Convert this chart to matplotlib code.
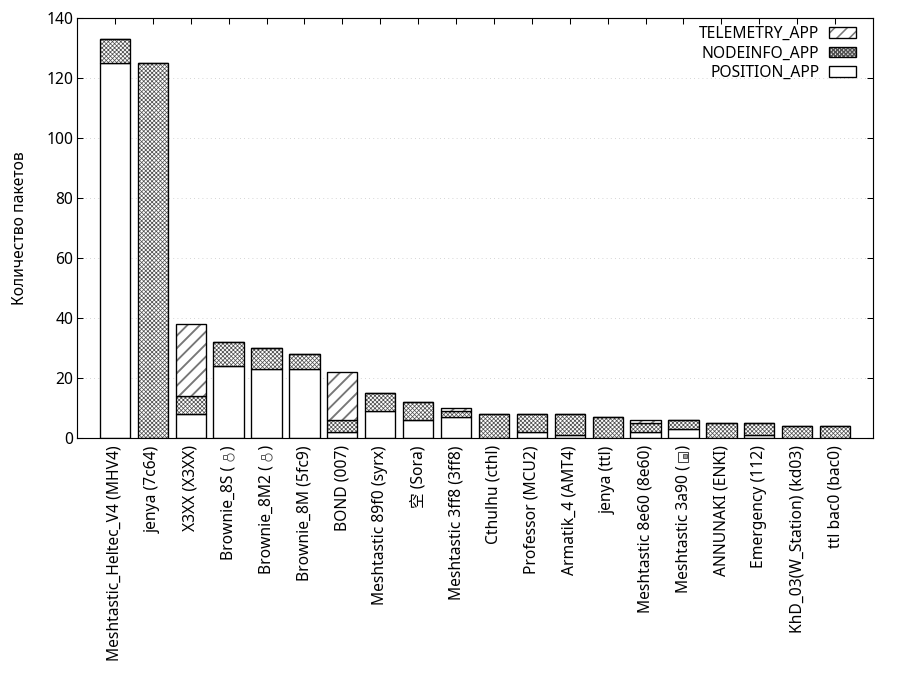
import matplotlib
matplotlib.use('Agg')
import matplotlib.pyplot as plt
from matplotlib.legend_handler import HandlerTuple
from matplotlib.lines import Line2D
from matplotlib.transforms import IdentityTransform
import numpy as np

# \u3000 marks an emoji that no installed font has; it is drawn as a small shape
nodes = ['Meshtastic_Heltec_V4 (MHV4)', 'jenya (7c64)', 'X3XX (X3XX)',
         'Brownie_8S (\u3000)', 'Brownie_8M2 (\u3000)', 'Brownie_8M (5fc9)', 'BOND (007)',
         'Meshtastic 89f0 (syrx)', '空 (Sora)', 'Meshtastic 3ff8 (3ff8)',
         'Cthulhu (cthl)', 'Professor (MCU2)', 'Armatik_4 (AMT4)', 'jenya (ttl)',
         'Meshtastic 8e60 (8e60)', 'Meshtastic 3a90 (\u3000)', 'ANNUNAKI (ENKI)',
         'Emergency (112)', 'KhD_03(W_Station) (kd03)', 'ttl bac0 (bac0)']
emoji = {3: 'bulb', 4: 'bulb', 15: 'pump'}
position = [125, 0, 8, 24, 23, 23, 2, 9, 6, 7, 0, 2, 1, 0, 2, 3, 0, 1, 0, 0]
nodeinfo = [8, 125, 6, 8, 7, 5, 4, 6, 6, 2, 8, 6, 7, 7, 3, 3, 5, 4, 4, 4]
telemetry = [0, 0, 24, 0, 0, 0, 16, 0, 0, 1, 0, 0, 0, 0, 1, 0, 0, 0, 0, 0]

plt.rcParams['font.family'] = ['Noto Sans', 'Noto Sans CJK SC', 'DejaVu Sans']
plt.rcParams['font.size'] = 15
plt.rcParams['hatch.linewidth'] = 1.5

fig = plt.figure(figsize=(12, 700 / 75), dpi=75)
ax = fig.add_axes([77 / 900, 1 - 438 / 700, 796 / 900, 420 / 700])

x = np.arange(len(nodes))
pos = np.array(position)
ni = np.array(nodeinfo)
tel = np.array(telemetry)
w = 0.8
lw = 1.3


def hatched(vals, bottom, hatch, hcolor, hlw):
    bars = ax.bar(x, vals, w, bottom=bottom, color='white', edgecolor=hcolor,
                  linewidth=0, hatch=hatch)
    for b in bars:
        try:
            b.set_hatch_linewidth(hlw)
        except AttributeError:
            pass
    outl = ax.bar(x, vals, w, bottom=bottom, fill=False, edgecolor='black', linewidth=lw)
    return bars[0], outl[0]


p_pos = ax.bar(x, pos, w, color='white', edgecolor='black', linewidth=lw)
h_ni = hatched(ni, pos, 'xxxxxx', '#505050', 0.7)
h_tel = hatched(tel, pos + ni, '//', '#777777', 1.8)

ax.set_xlim(-1, len(nodes))
ax.set_ylim(0, 140)
ax.set_yticks(range(0, 141, 20))
ax.set_xticks(x)
ax.set_xticklabels(nodes, rotation=90)
ax.tick_params(direction='in', length=6, width=1, top=True, right=True)
ax.tick_params(axis='x', pad=7)
ax.set_ylabel('Количество пакетов')
ax.yaxis.set_label_coords(-0.061, 0.5)
ax.set_axisbelow(True)
ax.yaxis.grid(True, color='#c8c8c8', linestyle=(0, (1, 4)), linewidth=0.8)
for s in ax.spines.values():
    s.set_linewidth(1.1)

ax.legend([h_tel, h_ni, p_pos[0]], ['TELEMETRY_APP', 'NODEINFO_APP', 'POSITION_APP'],
          handler_map={tuple: HandlerTuple(ndivide=1, pad=0)},
          loc='upper right', bbox_to_anchor=(1 - 17 / 796, 1 - 8 / 420),
          frameon=False, markerfirst=False, borderpad=0, borderaxespad=0,
          handlelength=1.75, handleheight=0.65, labelspacing=0.22, handletextpad=0.6)

# small drawn stand-ins for the emoji glyphs
fig.canvas.draw()
r = fig.canvas.get_renderer()
probe = fig.text(0, 0, ')', fontsize=15)
paren = probe.get_window_extent(r).width
probe.remove()
idt = IdentityTransform()
for i, kind in emoji.items():
    bb = ax.get_xticklabels()[i].get_window_extent(r)
    cx = (bb.x0 + bb.x1) / 2
    cy = bb.y1 - paren - 7.5
    if kind == 'bulb':
        fig.add_artist(Line2D([cx + 1.5], [cy], marker='o', ms=7, mfc='white', mec='#555555',
                              mew=0.9, transform=idt))
        fig.add_artist(Line2D([cx - 3.5], [cy], marker='s', ms=3.5, mfc='white', mec='#555555',
                              mew=0.9, transform=idt))
    else:
        fig.add_artist(Line2D([cx], [cy], marker='s', ms=9, mfc='white', mec='#444444',
                              mew=1.0, transform=idt))
        fig.add_artist(Line2D([cx + 2], [cy + 1], marker='s', ms=3.5, mfc='#999999', mec='#444444',
                              mew=0.8, transform=idt))

plt.savefig('out.png', dpi=75)
